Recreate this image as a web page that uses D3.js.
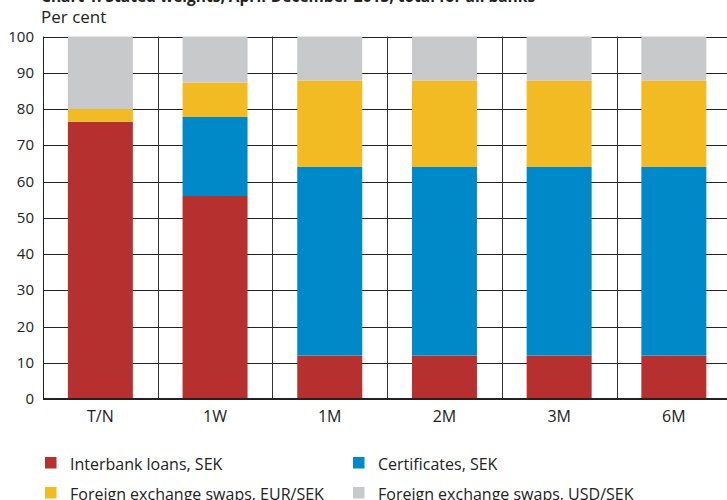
<!DOCTYPE html>
<html>
<head>
<meta charset="utf-8">
<script src="https://cdn.jsdelivr.net/npm/d3@7"></script>
<style>
  body { margin: 0; background: #fff; }
  text { font-family: "Open Sans", sans-serif; fill: #222; }
</style>
</head>
<body>
<div id="chart-area"></div>
<script>
// Stated weights per maturity, per cent
var maturities = ["T/N", "1W", "1M", "2M", "3M", "6M"];
var interbank = [76.5, 56.0, 12.0, 12.0, 12.0, 12.0];
var certificates = [0, 21.8, 52.0, 52.0, 52.0, 52.0];
var swapsEur = [3.5, 9.5, 23.8, 23.8, 23.8, 23.8];
var swapsUsd = [20.0, 12.7, 12.2, 12.2, 12.2, 12.2];
var yTicks = [0, 10, 20, 30, 40, 50, 60, 70, 80, 90, 100];

var seriesNames = ["Interbank loans, SEK", "Certificates, SEK",
    "Foreign exchange swaps, EUR/SEK", "Foreign exchange swaps, USD/SEK"];
var colors = ["#b5302e", "#0089c8", "#f2bb24", "#c8c9cb"];

var rows = maturities.map(function (m, i) {
    return { m: m, s0: interbank[i], s1: certificates[i], s2: swapsEur[i], s3: swapsUsd[i] };
});
var stacked = d3.stack().keys(["s0", "s1", "s2", "s3"])(rows);

var svg = d3.select("#chart-area").append("svg")
    .attr("width", 727)
    .attr("height", 500);

var plotLeft = 43, plotTop = 36.5, plotBottom = 399;
var bandW = 114.7;

var x = d3.scaleBand()
    .domain(maturities)
    .range([plotLeft, plotLeft + bandW * maturities.length])
    .paddingInner(0)
    .paddingOuter(0);

var y = d3.scaleLinear()
    .domain([0, 100])
    .range([plotBottom, plotTop]);

// title (clipped at top in the original)
svg.append("text")
    .attr("x", 41)
    .attr("y", 2)
    .style("font-weight", "bold")
    .style("font-size", "15.5px")
    .text("Chart 1. Stated weights, April-December 2013, total for all banks");

svg.append("text")
    .attr("x", 41)
    .attr("y", 23)
    .style("font-size", "17px")
    .text("Per cent");

// horizontal grid
svg.append("g").selectAll("line")
    .data(yTicks.filter(function (d) { return d > 0; }))
    .enter().append("line")
    .attr("x1", plotLeft)
    .attr("x2", 727)
    .attr("y1", function (d) { return Math.round(y(d)) + 0.5; })
    .attr("y2", function (d) { return Math.round(y(d)) + 0.5; })
    .attr("stroke", "#222")
    .attr("stroke-width", 1);

// vertical separators between categories
svg.append("g").selectAll("line")
    .data(maturities.slice(1))
    .enter().append("line")
    .attr("x1", function (d) { return Math.round(x(d)) + 0.5; })
    .attr("x2", function (d) { return Math.round(x(d)) + 0.5; })
    .attr("y1", y(100))
    .attr("y2", y(0))
    .attr("stroke", "#333")
    .attr("stroke-width", 1);

// bars
var barW = 65;
svg.append("g").selectAll("g")
    .data(stacked)
    .enter().append("g")
    .attr("fill", function (d, i) { return colors[i]; })
    .selectAll("rect")
    .data(function (d) { return d; })
    .enter().append("rect")
    .attr("x", function (d) { return x(d.data.m) + x.bandwidth() / 2 - barW / 2; })
    .attr("width", barW)
    .attr("y", function (d) { return y(d[1]); })
    .attr("height", function (d) { return y(d[0]) - y(d[1]); });

// left axis line and bottom axis
svg.append("line")
    .attr("x1", plotLeft + 0.5).attr("x2", plotLeft + 0.5)
    .attr("y1", y(100)).attr("y2", y(0))
    .attr("stroke", "#222");
svg.append("line")
    .attr("x1", plotLeft).attr("x2", 727)
    .attr("y1", y(0)).attr("y2", y(0))
    .attr("stroke", "#222")
    .attr("stroke-width", 2);

// y tick labels
svg.append("g").selectAll("text")
    .data(yTicks)
    .enter().append("text")
    .attr("x", 34)
    .attr("y", function (d) { return y(d) + 5; })
    .attr("text-anchor", "end")
    .style("font-size", "15px")
    .text(function (d) { return d; });

// x labels
svg.append("g").selectAll("text")
    .data(maturities)
    .enter().append("text")
    .attr("x", function (d) { return x(d) + x.bandwidth() / 2; })
    .attr("y", 422)
    .attr("text-anchor", "middle")
    .style("font-size", "16px")
    .text(function (d) { return d; });

// legend
var legendPos = [[45, 457], [353, 457], [45, 487], [353, 487]];
var legend = svg.append("g").selectAll("g")
    .data(seriesNames)
    .enter().append("g")
    .attr("transform", function (d, i) {
        return "translate(" + legendPos[i][0] + "," + legendPos[i][1] + ")";
    });

legend.append("rect")
    .attr("width", 11.5)
    .attr("height", 11.5)
    .attr("fill", function (d, i) { return colors[i]; });

legend.append("text")
    .attr("x", 25)
    .attr("y", 12.5)
    .style("font-size", "16px")
    .text(function (d) { return d; });
</script>
</body>
</html>
